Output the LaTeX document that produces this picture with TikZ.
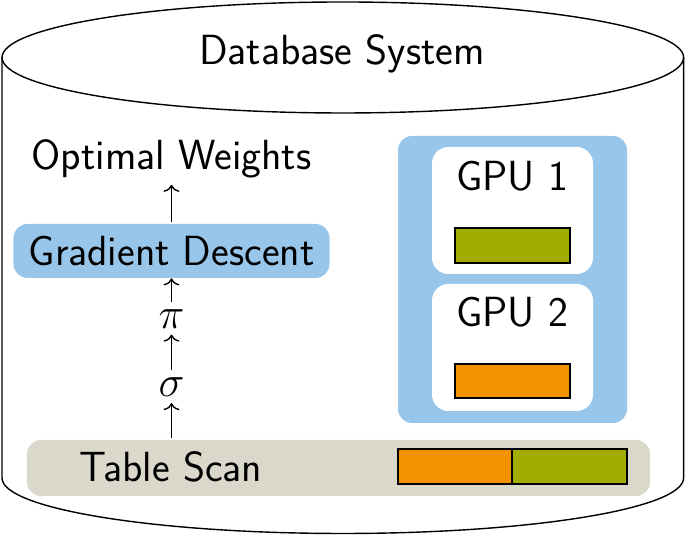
\documentclass[tikz,border=0pt]{standalone}
\usetikzlibrary{arrows.meta}
\definecolor{tumblue}{RGB}{152,198,234}
\definecolor{tumgray}{RGB}{218,215,203}
\definecolor{tumorange}{RGB}{243,146,0}
\definecolor{tumgreen}{RGB}{162,173,0}
\begin{document}
\begin{tikzpicture}[
    txt/.style={font=\fontsize{24}{28}\selectfont\sffamily},
    box/.style={rounded corners=0.28cm, inner sep=0pt},
    bar/.style={draw=black, line width=0.8pt},
    up/.style={-{To[length=4pt,width=9pt]}, line width=0.8pt, shorten <=1pt}
  ]
      \useasboundingbox (0,0) rectangle (13.7,10.72);
      % cylinder
      \draw[thick] (6.856,9.57) ellipse (6.816 and 1.11);
      \draw[thick] (0.04,9.57) -- (0.04,1.16) arc (180:360:6.816 and 1.11) -- (13.672,9.57);
      \node[txt, anchor=base] (db) at (6.84,9.42) {Database System};
      % plan
      \node[txt, anchor=base] (ow) at (3.43,7.32) {Optimal Weights};
      \node[txt, box, fill=tumblue, minimum width=6.32cm, minimum height=1.08cm] (gd) at (3.43,5.7) {Gradient Descent};
      \node[txt] (pi) at (3.43,4.34) {$\pi$};
      \node[txt] (sigma) at (3.43,2.97) {$\sigma$};
      \node[box, fill=tumgray, minimum width=12.46cm, minimum height=1.12cm] (scan) at (6.77,1.36) {};
      \node[txt, anchor=base] (scantxt) at (3.42,1.08) {Table Scan};
      \draw[up] (gd.north) -- (ow.south);
      \draw[up] (pi) -- (gd.south);
      \draw[up] (sigma) -- (pi);
      \draw[up] (sigma |- scan.north) -- (sigma);
      \draw[bar, fill=tumorange] (7.96,1.04) rectangle (10.24,1.74);
      \draw[bar, fill=tumgreen] (10.24,1.04) rectangle (12.54,1.74);
      % gpus
      \node[box, fill=tumblue, minimum width=4.58cm, minimum height=5.74cm] (gpus) at (10.25,5.13) {};
      \node[box, fill=white, rounded corners=0.33cm, minimum width=3.22cm, minimum height=2.54cm] (gpu1) at (10.25,6.51) {};
      \node[box, fill=white, rounded corners=0.33cm, minimum width=3.22cm, minimum height=2.54cm] (gpu2) at (10.25,3.77) {};
      \node[txt, anchor=base] (gpu1txt) at (10.24,6.9) {GPU 1};
      \node[txt, anchor=base] (gpu2txt) at (10.24,4.18) {GPU 2};
      \draw[bar, fill=tumgreen] (9.1,5.46) rectangle (11.4,6.16);
      \draw[bar, fill=tumorange] (9.1,2.76) rectangle (11.4,3.44);
\end{tikzpicture}
\end{document}
